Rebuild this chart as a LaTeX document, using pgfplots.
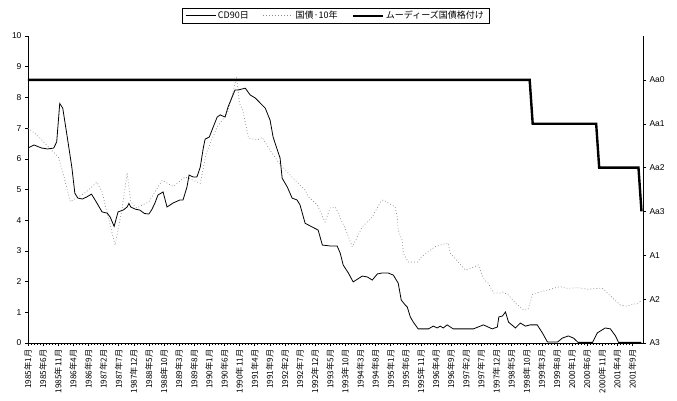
\documentclass[border=0pt]{standalone}
\usepackage{fontspec}
\setmainfont{Liberation Sans}
\newfontfamily\jp{Noto Sans CJK JP}
\usepackage{pgfplots}
\usepackage{pgfplotstable}
\pgfplotsset{compat=1.18}

% CD 90-day rate (%), x = months since 1985/1
\pgfplotstableread{
m v
0 6.35
2 6.45
4.5 6.35
6.5 6.32
8.5 6.35
9.5 6.55
10.5 7.8
11.5 7.65
13 6.7
14.5 5.73
15.5 4.88
16.5 4.72
18 4.69
19.5 4.76
21 4.85
22.8 4.56
24.5 4.27
26.2 4.23
27.2 4.1
28.5 3.8
29.8 4.27
31.5 4.33
32.8 4.43
33.4 4.55
34 4.43
35.5 4.36
37 4.33
38.5 4.22
40 4.2
41 4.35
42 4.56
43 4.82
44.7 4.92
46 4.43
48 4.56
50.3 4.66
51.3 4.66
52.6 5.08
53.3 5.47
54.6 5.41
55.9 5.41
57 5.73
58 6.35
58.6 6.64
60 6.71
61.3 7.04
62.6 7.36
63.6 7.43
65.2 7.36
66.2 7.69
68.5 8.24
69.5 8.24
71.9 8.3
73.5 8.08
75.2 7.98
76.8 7.82
78.5 7.65
80.1 7.26
81.1 6.71
82.5 6.29
83.4 6.03
84.1 5.37
85.8 5.08
87.4 4.72
89 4.66
90 4.5
91.7 3.9
94 3.78
96 3.68
97.4 3.19
100 3.16
102.3 3.16
103.3 2.93
104.3 2.54
106 2.28
107.6 1.99
110.6 2.18
112.3 2.15
113.9 2.05
115.6 2.25
117.2 2.28
119.2 2.28
120.9 2.21
122.5 1.95
123.5 1.4
124.8 1.24
125.5 1.17
126.5 0.85
127.5 0.68
129.1 0.46
132.5 0.46
134.1 0.55
135.4 0.49
136.4 0.55
137.4 0.49
138.7 0.59
140.7 0.46
147.4 0.46
150.7 0.59
153.6 0.46
155.3 0.52
155.8 0.85
157 0.88
158 1.01
159 0.68
161.3 0.49
162.9 0.65
164.6 0.55
166.2 0.59
168.5 0.59
170.2 0.33
171.9 0.03
175.2 0.03
176.8 0.16
178.8 0.23
180.5 0.16
182 0.02
186.8 0.02
188.4 0.33
191 0.49
192.7 0.46
194.4 0.23
195.4 0.02
203 0.02
}\cdtable

% 10-year JGB yield (%)
\pgfplotstableread{
m v
0 7.0
3 6.77
10 6.06
11.5 5.57
14 4.6
19 4.9
22.8 5.24
24.5 4.92
28.8 3.19
31 4.3
32.8 5.54
34 4.6
36 4.4
40 4.6
44.4 5.3
48 5.1
52 5.41
57 5.2
59 6.19
62.6 7.04
66 7.49
68 8.24
69 8.66
70 7.8
71 7.6
73 6.68
75.8 6.61
77.5 6.7
80 6.29
82.8 5.9
87 5.44
91.7 4.98
92.8 4.76
95.7 4.5
98.3 3.94
100 4.4
101.7 4.43
105.6 3.58
107.3 3.13
110.6 3.78
113.9 4.1
116.6 4.59
117.5 4.66
121.5 4.43
122.2 4.1
122.5 3.68
123.8 3.35
124.2 2.93
125.8 2.64
129 2.64
129.8 2.77
134.5 3.13
139 3.26
139.7 2.93
144.7 2.38
146 2.41
149 2.54
150.3 2.21
151 2.05
152.3 1.95
154 1.63
156.3 1.63
157 1.66
159 1.56
161.3 1.3
164 1.07
165.5 1.1
167 1.6
171 1.7
176 1.84
178 1.78
182 1.8
185.4 1.75
190 1.79
193.4 1.47
196 1.24
198 1.2
202 1.3
203 1.4
}\jgbtable

% Moody's rating: 6 = Aa0 ... 0 = A3
\pgfplotstableread{
m r
0 6
166 6
167 5
188 5
189 4
202 4
203 3
}\ratingtable

\begin{document}
\begin{tikzpicture}
\begin{axis}[
  name=ax1,
  scale only axis,
  width=615pt, height=307pt,
  xmin=0, xmax=203.5,
  ymin=0, ymax=10,
  axis x line*=bottom,
  axis y line*=left,
  ytick={0,1,...,10},
  xtick={0,5,...,200},
  minor x tick num=4,
  tick align=outside,
  major tick length=3pt,
  minor tick length=2pt,
  every tick/.style={black, line width=0.4pt},
  axis line style={line width=0.6pt},
  /pgf/number format/assume math mode=true,
  yticklabel style={font=\fontsize{8.5}{9}\selectfont},
  xticklabel style={rotate=90, anchor=east, font=\jp\fontsize{8.2}{9}\selectfont},
  xticklabels={1985年1月,1985年6月,1985年11月,1986年4月,1986年9月,1987年2月,1987年7月,1987年12月,1988年5月,1988年10月,1989年3月,1989年8月,1990年1月,1990年6月,1990年11月,1991年4月,1991年9月,1992年2月,1992年7月,1992年12月,1993年5月,1993年10月,1994年3月,1994年8月,1995年1月,1995年6月,1995年11月,1996年4月,1996年9月,1997年2月,1997年7月,1997年12月,1998年5月,1998年10月,1999年3月,1999年8月,2000年1月,2000年6月,2000年11月,2001年4月,2001年9月},
]
  \addplot[black!45, dash pattern=on 0.8pt off 2.2pt, line width=0.7pt] table[x=m, y=v] {\jgbtable};
  \addplot[black, line width=0.8pt] table[x=m, y=v] {\cdtable};
\end{axis}
\begin{axis}[
  name=ax2,
  scale only axis,
  width=615pt, height=307pt,
  xmin=0, xmax=203.5,
  ymin=0, ymax=7,
  axis x line=none,
  axis y line*=right,
  ytick={0,1,...,6},
  yticklabels={A3,A2,A1,Aa3,Aa2,Aa1,Aa0},
  tick align=outside,
  major tick length=3pt,
  every tick/.style={black, line width=0.4pt},
  axis line style={line width=0.6pt},
  yticklabel style={font=\fontsize{8.5}{9}\selectfont},
  legend columns=3,
  legend style={at={(0.5,1)}, anchor=south, yshift=13pt,
    draw=black, line width=0.4pt, inner xsep=3pt, inner ysep=0.5pt,
    font=\jp\fontsize{9}{10}\selectfont,
    /tikz/every even column/.append style={column sep=12pt}},
  legend image code/.code={\draw[#1] (0pt,0pt) -- (30pt,0pt);},
]
  \addlegendimage{black, line width=0.8pt}
  \addlegendentry{CD90日}
  \addlegendimage{black!45, dash pattern=on 0.8pt off 2.2pt, line width=0.7pt}
  \addlegendentry{国債·10年}
  \addplot[black, line width=2.4pt] table[x=m, y=r] {\ratingtable};
  \addlegendentry{ムーディーズ国債格付け}
\end{axis}
\path (ax1.south west) ++(-28pt,-58pt);
\path (ax1.north east) ++(34pt,36pt);
\end{tikzpicture}
\end{document}
